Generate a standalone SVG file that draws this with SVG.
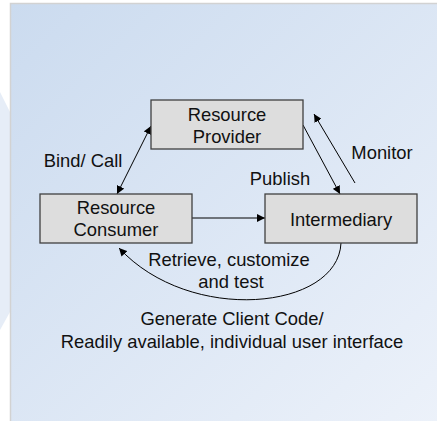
<svg xmlns="http://www.w3.org/2000/svg" width="437" height="421" viewBox="0 0 437 421">
<defs>
<linearGradient id="bg" x1="0" y1="0" x2="1" y2="1">
<stop offset="0" stop-color="#cbdbef"/>
<stop offset="1" stop-color="#edf2fa"/>
</linearGradient>
<marker id="ah" viewBox="0 0 10 10" refX="10" refY="5" markerWidth="8" markerHeight="8" markerUnits="userSpaceOnUse" orient="auto-start-reverse">
<path d="M0,0 L10,5 L0,10 z" fill="#000"/>
</marker>
<style>
.box{fill:#dddddd;stroke:#404040;stroke-width:1.3}
.t{font-family:"Liberation Sans",Arial,sans-serif;font-size:18.4px;fill:#111;text-anchor:middle}
.c{fill:none;stroke:#000;stroke-width:1}
</style>
</defs>
<rect x="0" y="0" width="437" height="421" fill="#ffffff"/>
<polygon points="0,92 10,112 10,312 0,330" fill="#e6edf7"/>
<rect x="10.5" y="3.5" width="440" height="430" fill="url(#bg)" stroke="#d2d2d2" stroke-width="1.5"/>
<g id="connectors">
<line class="c" x1="117" y1="194" x2="151" y2="126" marker-start="url(#ah)" marker-end="url(#ah)"/>
<line class="c" x1="303" y1="125" x2="340" y2="194" marker-end="url(#ah)"/>
<line class="c" x1="355" y1="183" x2="314" y2="114" marker-end="url(#ah)"/>
<line class="c" x1="192" y1="218" x2="265" y2="218" marker-end="url(#ah)"/>
<path class="c" d="M341,243 C338,310 190,325 119,248" marker-end="url(#ah)"/>
</g>
<g id="provider">
<rect class="box" x="151" y="100" width="152" height="49"/>
<text class="t" x="227" y="121">Resource</text>
<text class="t" x="227" y="143">Provider</text>
</g>
<g id="consumer">
<rect class="box" x="40" y="194" width="152" height="49"/>
<text class="t" x="116" y="214">Resource</text>
<text class="t" x="116" y="236">Consumer</text>
</g>
<g id="intermediary">
<rect class="box" x="265" y="194" width="152" height="49"/>
<text class="t" x="341" y="226">Intermediary</text>
</g>
<g id="labels">
<text class="t" x="83" y="167">Bind/ Call</text>
<text class="t" x="280" y="185">Publish</text>
<text class="t" x="382" y="159">Monitor</text>
<text class="t" x="229" y="266">Retrieve, customize</text>
<text class="t" x="231" y="288">and test</text>
<text class="t" x="232" y="325">Generate Client Code/</text>
<text class="t" x="232" y="348">Readily available, individual user interface</text>
</g>
</svg>
